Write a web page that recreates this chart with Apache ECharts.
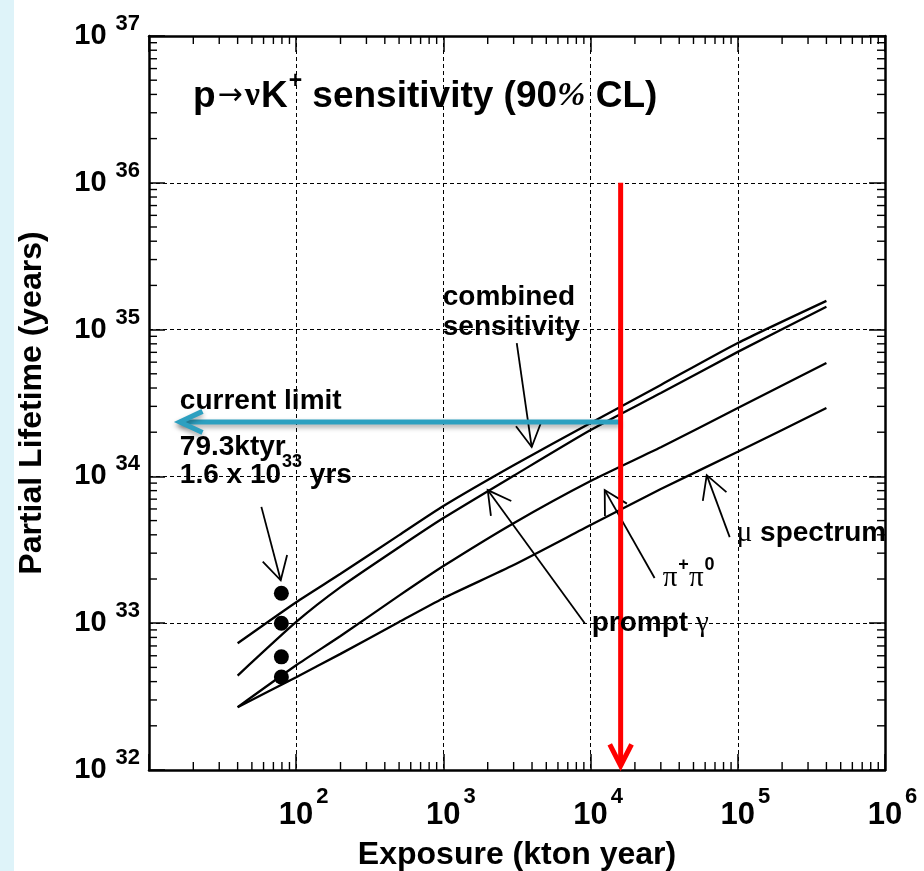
<!DOCTYPE html>
<html>
<head>
<meta charset="utf-8">
<script src="https://cdn.jsdelivr.net/npm/echarts@6/dist/echarts.min.js"></script>
<style>
  html, body { margin: 0; padding: 0; background: #fff; }
  #chart { width: 924px; height: 871px; }
</style>
</head>
<body>
<div id="chart"></div>
<script>
const SANS = '"Liberation Sans", Arial, Helvetica, sans-serif';
const SERIF = '"Liberation Serif", "DejaVu Serif", serif';

// Exposure samples (kton year) shared by the sensitivity curves
const exposure = [40, 100, 200, 500, 1000, 3000, 10000, 30000, 100000, 400000];
// 90% CL partial lifetime sensitivity (years)
const combinedSensitivity = [7.3e32, 1.39e33, 2.17e33, 3.98e33, 6.28e33, 1.19e34, 2.31e34, 4.2e34, 8.11e34, 1.57e35];
const promptGamma         = [4.4e32, 1.02e33, 1.76e33, 3.29e33, 5.2e33, 1.01e34, 2.07e34, 3.7e34, 7.05e34, 1.43e35];
const piPlusPiZero        = [2.68e32, 5.17e32, 8.18e32, 1.54e33, 2.45e33, 4.8e33, 9.3e33, 1.58e34, 2.92e34, 5.93e34];
const muSpectrum          = [2.68e32, 4.29e32, 6.18e32, 1.02e33, 1.48e33, 2.49e33, 4.66e33, 8.2e33, 1.47e34, 2.92e34];

// Current limit: exposure and the four quoted lifetimes
const currentExposure = 79.3;
const currentLifetimes = [1.6e33, 1.0e33, 5.9e32, 4.3e32];

// Projected exposure (vertical marker) and the lifetime reached there
const projectedExposure = 1.6e4;
const projectedSpan = [1e36, 1.07e32];
const reachedLifetime = 2.35e34;
const reachedArrowEnd = 16.2;

// Axis ranges (decades)
const xRange = [10, 1e6];
const yRange = [1e32, 1e37];

// Pointer arrows from labels to curves: [tail, tip] in (exposure, lifetime)
const pointers = [
  [[58, 6.2e33], [78.5, 1.96e33]],
  [[3150, 8.1e34], [3980, 1.585e34]],
  [[9120, 1.0e33], [2000, 8.07e33]],
  [[27200, 2.03e33], [12470, 8.07e33]],
  [[88100, 3.86e33], [61500, 1.02e34]]
];

// Annotation text, anchored at left edge / baseline in (exposure, lifetime)
const notes = [
  { at: [990, 1.41e35], text: '{b|combined}' },
  { at: [990, 8.9e34], text: '{b|sensitivity}' },
  { at: [16.2, 2.79e34], text: '{b|current limit}' },
  { at: [16.2, 1.355e34], text: '{b|79.3ktyr}' },
  { at: [16.2, 8.73e33], text: '{b|1.6 x 10}{sup|33}{b| yrs}' },
  { at: [10170, 8.55e32], text: '{b|prompt }{g|γ}' },
  { at: [30900, 1.73e33], text: '{g|π}{sup|+}{g|π}{sup|0}' },
  { at: [98400, 3.51e33], text: '{g|μ}{b| spectrum}' }
];

const exponent = v => Math.round(Math.log10(v));

(function () {
const chart = echarts.init(document.getElementById('chart'), null, { renderer: 'canvas' });

const axisLineStyle = { show: true, onZero: false, lineStyle: { color: '#000', width: 2.5 } };
const majorTick = { show: true, inside: true, length: 16, lineStyle: { color: '#000', width: 1.5 } };
const gridLine = { show: true, lineStyle: { color: '#000', width: 1, type: [4, 3] } };

const pair = arr => exposure.map((x, i) => [x, arr[i]]);
const curve = (name, arr) => ({
  type: 'line', name, data: pair(arr), symbol: 'none', showSymbol: false, smooth: 0.2,
  lineStyle: { color: '#000', width: 2.3 }, z: 5, silent: true
});

chart.setOption({
  animation: false,
  backgroundColor: '#fff',
  title: {
    left: 188, top: 73,
    text: '{b|p}{arr|→}{sym|ν}{b|K}{sup|+}{b| sensitivity (90}{pct|%}{b| CL)}',
    textStyle: {
      rich: {
        b: { fontFamily: SANS, fontWeight: 'bold', fontSize: 37, color: '#000', lineHeight: 37 },
        arr: { fontFamily: '"DejaVu Sans", sans-serif', fontWeight: 'normal', fontSize: 30, color: '#000', lineHeight: 30, padding: [0, 1, 0, 2] },
        sym: { fontFamily: SERIF, fontSize: 34, color: '#000', lineHeight: 34, padding: [0, 1, 0, 1] },
        sup: { fontFamily: SANS, fontWeight: 'bold', fontSize: 23, color: '#000', lineHeight: 23, padding: [0, 0, 30, 1] },
        pct: { fontFamily: SERIF, fontStyle: 'italic', fontSize: 34, color: '#000', lineHeight: 34 }
      }
    }
  },
  grid: { left: 149, top: 36, width: 736, height: 734, containLabel: false, outerBoundsMode: 'none' },
  xAxis: [{
    type: 'log', logBase: 10, min: xRange[0], max: xRange[1], position: 'bottom',
    name: 'Exposure (kton year)', nameLocation: 'middle', nameGap: 69, nameMoveOverlap: false,
    nameTextStyle: { fontFamily: SANS, fontWeight: 'bold', fontSize: 32, color: '#000' },
    axisLine: axisLineStyle, axisTick: majorTick, splitLine: gridLine,
    axisLabel: {
      margin: 30, interval: 0, showMinLabel: true, showMaxLabel: true, hideOverlap: false,
      formatter: v => exponent(v) <= 1 ? '' : '{b|10}{s|' + exponent(v) + '}',
      rich: {
        b: { fontFamily: SANS, fontWeight: 'bold', fontSize: 31, color: '#000', lineHeight: 31, padding: [0, 0, 0, 15] },
        s: { fontFamily: SANS, fontWeight: 'bold', fontSize: 22, color: '#000', lineHeight: 22, padding: [0, 0, 38, 3] }
      }
    }
  }, {
    type: 'log', logBase: 10, min: xRange[0], max: xRange[1], position: 'top',
    axisLine: axisLineStyle, axisTick: majorTick, axisLabel: { show: false }, splitLine: { show: false }
  }],
  yAxis: [{
    type: 'log', logBase: 10, min: yRange[0], max: yRange[1], position: 'left',
    name: 'Partial Lifetime (years)', nameLocation: 'middle', nameGap: 101, nameMoveOverlap: false,
    nameTextStyle: { fontFamily: SANS, fontWeight: 'bold', fontSize: 32, color: '#000' },
    axisLine: axisLineStyle, axisTick: majorTick, splitLine: gridLine,
    axisLabel: {
      margin: 9, interval: 0, showMinLabel: true, showMaxLabel: true, hideOverlap: false,
      formatter: v => '{b|10}{s|' + exponent(v) + '}',
      rich: {
        b: { fontFamily: SANS, fontWeight: 'bold', fontSize: 29, color: '#000', lineHeight: 29 },
        s: { fontFamily: SANS, fontWeight: 'bold', fontSize: 22, color: '#000', lineHeight: 22, padding: [0, 0, 24, 9] }
      }
    }
  }, {
    type: 'log', logBase: 10, min: yRange[0], max: yRange[1], position: 'right',
    axisLine: axisLineStyle, axisTick: majorTick, axisLabel: { show: false }, splitLine: { show: false }
  }],
  series: [
    curve('combined sensitivity', combinedSensitivity),
    curve('prompt γ', promptGamma),
    curve('π+π0', piPlusPiZero),
    curve('μ spectrum', muSpectrum),
    {
      type: 'scatter', name: 'current limit',
      data: currentLifetimes.map(y => [currentExposure, y]),
      symbol: 'circle', symbolSize: 15, itemStyle: { color: '#000', opacity: 1 }, z: 6, silent: true
    }
  ]
});

// ---- decorations placed through the chart's own coordinate conversion ----
const toPx = (x, y) => chart.convertToPixel({ seriesIndex: 0 }, [x, y]);
const gx = v => chart.convertToPixel({ xAxisIndex: 0 }, v);
const gy = v => chart.convertToPixel({ yAxisIndex: 0 }, v);

const gr = [];

// light side strip
gr.push({ type: 'rect', shape: { x: 0, y: 0, width: 14, height: 871 }, style: { fill: '#def3f9' }, z: -10 });

// minor ticks at 2..9 of every decade, on all four sides
const plotLeft = gx(xRange[0]), plotRight = gx(xRange[1]);
const plotTop = gy(yRange[1]), plotBottom = gy(yRange[0]);
const minorLen = 8;
const tickStyle = { stroke: '#000', lineWidth: 1.4 };
for (let k = exponent(xRange[0]); k < exponent(xRange[1]); k++) {
  for (let m = 2; m <= 9; m++) {
    const px = gx(m * Math.pow(10, k));
    gr.push({ type: 'line', shape: { x1: px, y1: plotBottom, x2: px, y2: plotBottom - minorLen }, style: tickStyle, z: 20 });
    gr.push({ type: 'line', shape: { x1: px, y1: plotTop, x2: px, y2: plotTop + minorLen }, style: tickStyle, z: 20 });
  }
}
for (let k = exponent(yRange[0]); k < exponent(yRange[1]); k++) {
  for (let m = 2; m <= 9; m++) {
    const py = gy(m * Math.pow(10, k));
    gr.push({ type: 'line', shape: { x1: plotLeft, y1: py, x2: plotLeft + minorLen, y2: py }, style: tickStyle, z: 20 });
    gr.push({ type: 'line', shape: { x1: plotRight, y1: py, x2: plotRight - minorLen, y2: py }, style: tickStyle, z: 20 });
  }
}

// open "V" arrow head at tip, pointing away from tail
function headPoints(tip, tail, len, halfAngleDeg) {
  const dx = tail[0] - tip[0], dy = tail[1] - tip[1];
  const d = Math.hypot(dx, dy), ux = dx / d, uy = dy / d;
  const a = halfAngleDeg * Math.PI / 180;
  const rot = s => [tip[0] + len * (ux * Math.cos(s) - uy * Math.sin(s)),
                    tip[1] + len * (ux * Math.sin(s) + uy * Math.cos(s))];
  return [rot(a), tip, rot(-a)];
}

// thin black pointer arrows
pointers.forEach(([tailV, tipV]) => {
  const tail = toPx(tailV[0], tailV[1]);
  const tip = toPx(tipV[0], tipV[1]);
  const st = { stroke: '#000', lineWidth: 1.8, fill: null };
  gr.push({ type: 'line', shape: { x1: tail[0], y1: tail[1], x2: tip[0], y2: tip[1] }, style: st, z: 30 });
  gr.push({ type: 'polyline', shape: { points: headPoints(tip, tail, 26, 29) }, style: st, z: 30 });
});

// horizontal arrow: lifetime reached at the projected exposure
{
  const tail = toPx(projectedExposure, reachedLifetime);
  const tip = toPx(reachedArrowEnd, reachedLifetime);
  const st = {
    stroke: '#2da0c0', lineWidth: 5, fill: null, lineCap: 'butt', lineJoin: 'miter',
    shadowColor: 'rgba(0,0,0,0.35)', shadowBlur: 5, shadowOffsetY: 3
  };
  gr.push({ type: 'line', shape: { x1: tail[0], y1: tail[1], x2: tip[0], y2: tip[1] }, style: st, z: 40 });
  gr.push({ type: 'polyline', shape: { points: headPoints(tip, tail, 25, 25) }, style: st, z: 40 });
}

// vertical arrow at the projected exposure
{
  const tail = toPx(projectedExposure, projectedSpan[0]);
  const tip = toPx(projectedExposure, projectedSpan[1]);
  const st = { stroke: '#ff0000', lineWidth: 5, fill: null, lineCap: 'butt', lineJoin: 'miter' };
  gr.push({ type: 'line', shape: { x1: tail[0], y1: tail[1], x2: tip[0], y2: tip[1] }, style: st, z: 41 });
  gr.push({ type: 'polyline', shape: { points: headPoints(tip, tail, 24, 27) }, style: st, z: 41 });
}

// annotation text
const noteRich = {
  b: { fontFamily: SANS, fontWeight: 'bold', fontSize: 28, fill: '#000', lineHeight: 28 },
  g: { fontFamily: SERIF, fontSize: 29, fill: '#000', lineHeight: 29 },
  sup: { fontFamily: SANS, fontWeight: 'bold', fontSize: 18, fill: '#000', lineHeight: 18, padding: [0, 0, 26, 1] }
};
notes.forEach(n => {
  const p = toPx(n.at[0], n.at[1]);
  gr.push({
    type: 'text', x: p[0], y: p[1] - 10, z: 50,
    style: { text: n.text, rich: noteRich, align: 'left', verticalAlign: 'middle', fill: '#000',
             fontFamily: SANS, fontSize: 28, fontWeight: 'bold' }
  });
});

chart.setOption({ graphic: { elements: gr } });
})();
</script>
</body>
</html>
